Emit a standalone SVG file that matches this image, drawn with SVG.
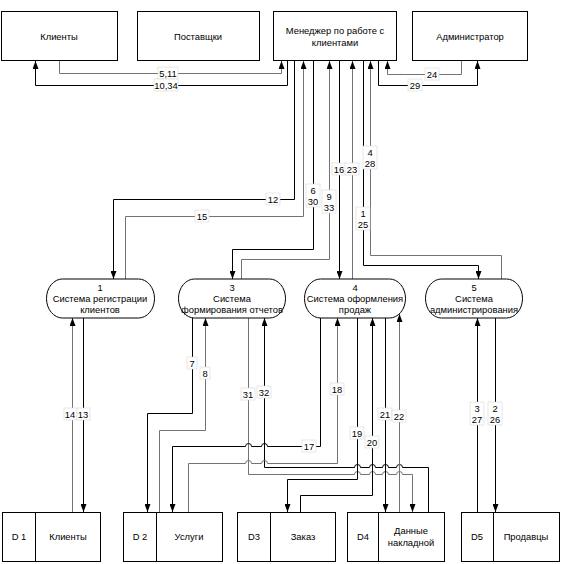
<svg xmlns="http://www.w3.org/2000/svg" width="562" height="564" viewBox="0 0 562 564">
<defs>
<style>
.box{fill:#fff;stroke:#000;stroke-width:1}
.t{font-family:"Liberation Sans",Arial,sans-serif;font-size:9.4px;fill:#000;text-anchor:middle}
.k{fill:none;stroke:#000;stroke-width:1}
.g{fill:none;stroke:#737373;stroke-width:1}
.lb{fill:#fff;stroke:#d8d8d8;stroke-width:0.6}
</style>
<marker id="a" viewBox="0 0 8 6" markerWidth="8" markerHeight="6" refX="8" refY="3" orient="auto" markerUnits="userSpaceOnUse">
<path d="M0,0 L8,3 L0,6 z" fill="#000"/>
</marker>
</defs>
<rect width="562" height="564" fill="#fff"/>

<g id="connectors">
<path class="g" marker-end="url(#a)" d="M59.5,61 V73.5 H281.5 V61"/>
<path class="k" marker-end="url(#a)" d="M287.5,61 V85.5 H35.5 V61"/>
<path class="g" marker-end="url(#a)" d="M461.5,61 V74.5 H387.5 V61"/>
<path class="k" marker-end="url(#a)" d="M378.5,61 V85.5 H477.5 V61"/>
<path class="k" marker-end="url(#a)" d="M294.5,61 V199.5 H113.5 V279"/>
<path class="g" marker-end="url(#a)" d="M125.5,279 V216.5 H303.5 V61"/>
<path class="k" marker-end="url(#a)" d="M313.5,61 V249.5 H232.5 V279"/>
<path class="g" marker-end="url(#a)" d="M241.5,279 V259.5 H329.5 V61"/>
<path class="k" marker-end="url(#a)" d="M339.5,61 V279"/>
<path class="g" marker-end="url(#a)" d="M352.5,279 V61"/>
<path class="k" marker-end="url(#a)" d="M363.5,61 V265.5 H478.5 V279"/>
<path class="g" marker-end="url(#a)" d="M501.5,279 V255.5 H370.5 V61"/>

<path class="g" marker-end="url(#a)" d="M72.5,512 V318"/>
<path class="k" marker-end="url(#a)" d="M83.5,318 V512"/>
<path class="k" marker-end="url(#a)" d="M192.5,318 V413.5 H147.5 V512"/>
<path class="g" marker-end="url(#a)" d="M159.5,512 V430.5 H205.5 V318"/>
<path class="g" marker-end="url(#a)" d="M248.5,318 V474.5 H354.5 A3,3 0 0 1 360.5,474.5 H369.5 A3,3 0 0 1 375.5,474.5 H382.5 A3,3 0 0 1 388.5,474.5 H396.5 A3,3 0 0 1 402.5,474.5 H412.5 V512"/>
<path class="k" marker-end="url(#a)" d="M428.5,512 V467.5 H402.5 A3,3 0 0 0 396.5,467.5 H388.5 A3,3 0 0 0 382.5,467.5 H375.5 A3,3 0 0 0 369.5,467.5 H360.5 A3,3 0 0 0 354.5,467.5 H264.5 V318"/>
<path class="k" marker-end="url(#a)" d="M320.5,318 V446.5 H267.5 A3,3 0 0 0 261.5,446.5 H251.5 A3,3 0 0 0 245.5,446.5 H172.5 V512"/>
<path class="g" marker-end="url(#a)" d="M188.5,512 V463.5 H245.5 A3,3 0 0 1 251.5,463.5 H261.5 A3,3 0 0 1 267.5,463.5 H337.5 V318"/>
<path class="k" marker-end="url(#a)" d="M357.5,318 V479.5 H287.5 V512"/>
<path class="k" marker-end="url(#a)" d="M300.5,512 V495.5 H372.5 V318"/>
<path class="k" marker-end="url(#a)" d="M385.5,318 V512"/>
<path class="g" marker-end="url(#a)" d="M399.5,512 V314"/>
<path class="k" marker-end="url(#a)" d="M477.5,512 V318"/>
<path class="k" marker-end="url(#a)" d="M495.5,318 V512"/>

<g id="labels">
<rect class="lb" x="158" y="67" width="20" height="12"/><text class="t" x="168" y="76.5">5,11</text>
<rect class="lb" x="154" y="79" width="24" height="12"/><text class="t" x="166" y="88.5">10,34</text>
<rect class="lb" x="425" y="68" width="14" height="12"/><text class="t" x="432" y="77.5">24</text>
<rect class="lb" x="408" y="79" width="14" height="12"/><text class="t" x="415" y="88.5">29</text>
<rect class="lb" x="266" y="193" width="14" height="12"/><text class="t" x="273" y="202.5">12</text>
<rect class="lb" x="195" y="210" width="14" height="12"/><text class="t" x="202" y="219.5">15</text>
<rect class="lb" x="306" y="184" width="14" height="23"/><text class="t" x="313" y="193.5">6</text><text class="t" x="313" y="204.5">30</text>
<rect class="lb" x="322" y="190" width="14" height="23"/><text class="t" x="329" y="199.5">9</text><text class="t" x="329" y="210.5">33</text>
<rect class="lb" x="332" y="163" width="14" height="12"/><text class="t" x="339" y="172.5">16</text>
<rect class="lb" x="345" y="163" width="14" height="12"/><text class="t" x="352" y="172.5">23</text>
<rect class="lb" x="363" y="146" width="14" height="23"/><text class="t" x="370" y="155.5">4</text><text class="t" x="370" y="166.5">28</text>
<rect class="lb" x="356" y="207" width="14" height="23"/><text class="t" x="363" y="216.5">1</text><text class="t" x="363" y="227.5">25</text>
<rect class="lb" x="64" y="408" width="13" height="12"/><text class="t" x="70" y="417.5">14</text>
<rect class="lb" x="77" y="408" width="13" height="12"/><text class="t" x="83" y="417.5">13</text>
<rect class="lb" x="187" y="357" width="10" height="12"/><text class="t" x="192" y="366.5">7</text>
<rect class="lb" x="200" y="367" width="10" height="12"/><text class="t" x="205" y="376.5">8</text>
<rect class="lb" x="241" y="388" width="14" height="12"/><text class="t" x="248" y="397.5">31</text>
<rect class="lb" x="257" y="386" width="14" height="12"/><text class="t" x="264" y="395.5">32</text>
<rect class="lb" x="302" y="440" width="14" height="12"/><text class="t" x="309" y="449.5">17</text>
<rect class="lb" x="330" y="383" width="14" height="12"/><text class="t" x="337" y="392.5">18</text>
<rect class="lb" x="350" y="427" width="14" height="12"/><text class="t" x="357" y="436.5">19</text>
<rect class="lb" x="365" y="436" width="14" height="12"/><text class="t" x="372" y="445.5">20</text>
<rect class="lb" x="378" y="408" width="14" height="12"/><text class="t" x="385" y="417.5">21</text>
<rect class="lb" x="392" y="410" width="14" height="12"/><text class="t" x="399" y="419.5">22</text>
<rect class="lb" x="470" y="402" width="14" height="23"/><text class="t" x="477" y="411.5">3</text><text class="t" x="477" y="422.5">27</text>
<rect class="lb" x="488" y="402" width="14" height="23"/><text class="t" x="495" y="411.5">2</text><text class="t" x="495" y="422.5">26</text>
</g>
</g>

<g id="ext-clients"><rect class="box" x="1.5" y="11.5" width="116" height="49"/><text class="t" x="59" y="39.5">Клиенты</text></g>
<g id="ext-suppliers"><rect class="box" x="137.5" y="11.5" width="122" height="49"/><text class="t" x="198" y="39.5">Поставщки</text></g>
<g id="ext-manager"><rect class="box" x="273.5" y="11.5" width="123" height="49"/><text class="t" x="335" y="33.5">Менеджер по работе с</text><text class="t" x="335" y="45.5">клиентами</text></g>
<g id="ext-admin"><rect class="box" x="412.5" y="11.5" width="115" height="49"/><text class="t" x="470" y="39.5">Администратор</text></g>

<g id="p1"><rect class="box" x="46.5" y="279" width="108" height="39" rx="16" ry="19.5"/><text class="t" x="100" y="290.5">1</text><text class="t" x="100" y="301.5">Система регистрации</text><text class="t" x="100" y="312.5">клиентов</text></g>
<g id="p3"><rect class="box" x="178.5" y="279" width="107" height="39" rx="16" ry="19.5"/><text class="t" x="232" y="290.5">3</text><text class="t" x="232" y="301.5">Система</text><text class="t" x="232" y="312.5">формирования отчетов</text></g>
<g id="p4"><rect class="box" x="304.5" y="279" width="101" height="39" rx="16" ry="19.5"/><text class="t" x="355" y="290.5">4</text><text class="t" x="355" y="301.5">Система оформления</text><text class="t" x="355" y="312.5">продаж</text></g>
<g id="p5"><rect class="box" x="425.5" y="279" width="97" height="39" rx="16" ry="19.5"/><text class="t" x="474" y="290.5">5</text><text class="t" x="474" y="301.5">Система</text><text class="t" x="474" y="312.5">администрирования</text></g>

<g id="d1"><rect class="box" x="2.5" y="512.5" width="98" height="49"/><line class="k" x1="35.5" y1="512.5" x2="35.5" y2="561.5"/><text class="t" x="19" y="540">D 1</text><text class="t" x="68" y="540">Клиенты</text></g>
<g id="d2"><rect class="box" x="123.5" y="512.5" width="99" height="49"/><line class="k" x1="156.5" y1="512.5" x2="156.5" y2="561.5"/><text class="t" x="140" y="540">D 2</text><text class="t" x="189" y="540">Услуги</text></g>
<g id="d3"><rect class="box" x="237.5" y="512.5" width="98" height="49"/><line class="k" x1="270.5" y1="512.5" x2="270.5" y2="561.5"/><text class="t" x="254" y="540">D3</text><text class="t" x="303" y="540">Заказ</text></g>
<g id="d4"><rect class="box" x="347.5" y="512.5" width="97" height="49"/><line class="k" x1="378.5" y1="512.5" x2="378.5" y2="561.5"/><text class="t" x="363" y="540">D4</text><text class="t" x="411" y="533.5">Данные</text><text class="t" x="411" y="545.5">накладной</text></g>
<g id="d5"><rect class="box" x="461.5" y="512.5" width="98" height="49"/><line class="k" x1="493.5" y1="512.5" x2="493.5" y2="561.5"/><text class="t" x="477" y="540">D5</text><text class="t" x="526" y="540">Продавцы</text></g>
</svg>
